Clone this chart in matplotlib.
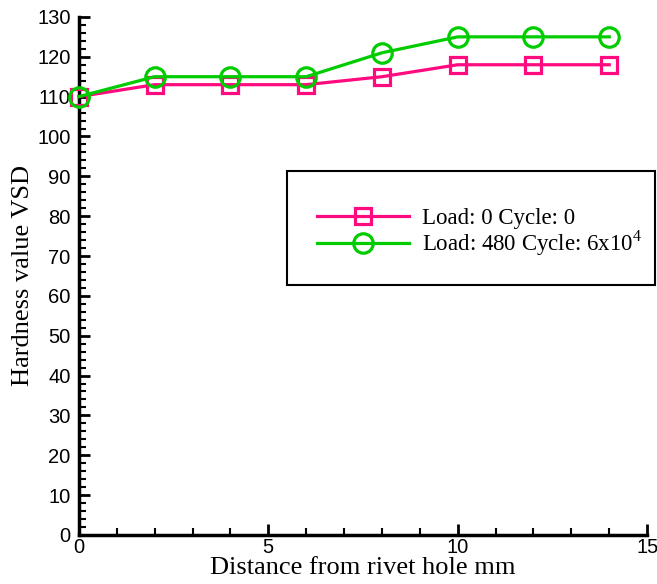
import matplotlib
matplotlib.use("Agg")
import matplotlib.pyplot as plt
from matplotlib.patches import Rectangle
from matplotlib.ticker import MultipleLocator

# data
distance = [0, 2, 4, 6, 8, 10, 12, 14]
hardness_virgin = [110, 113, 113, 113, 115, 118, 118, 118]
hardness_loaded = [110, 115, 115, 115, 121, 125, 125, 125]
labels = ["Load: 0 Cycle: 0", "Load: 480 Cycle: 6x10$^{4}$"]

PINK = "#ff0a7f"
GREEN = "#00cc00"

plt.rcParams["mathtext.fontset"] = "custom"
plt.rcParams["mathtext.rm"] = "Liberation Serif"

fig = plt.figure(figsize=(6.57, 5.84), dpi=100)
ax = fig.add_axes([0.120, 0.084, 0.865, 0.887])

ax.plot(distance, hardness_virgin, color=PINK, lw=2.3, marker="s", ms=11,
        mfc="none", mew=2.3, label=labels[0], clip_on=False, zorder=3)
ax.plot(distance, hardness_loaded, color=GREEN, lw=2.3, marker="o", ms=14,
        mfc="none", mew=2.3, label=labels[1], clip_on=False, zorder=3)

ax.set_xlim(0, 15)
ax.set_ylim(0, 130)
ax.xaxis.set_major_locator(MultipleLocator(5))
ax.xaxis.set_minor_locator(MultipleLocator(1))
ax.yaxis.set_major_locator(MultipleLocator(10))
ax.yaxis.set_minor_locator(MultipleLocator(2))

for side in ("top", "right"):
    ax.spines[side].set_visible(False)
for side in ("left", "bottom"):
    ax.spines[side].set_linewidth(2.5)

ax.tick_params(which="both", direction="in", width=2, labelsize=14.5)
ax.tick_params(which="major", length=8)
ax.tick_params(which="minor", length=5, width=1.5)
ax.tick_params(axis="x", pad=2)
ax.tick_params(axis="y", pad=6)
for lab in ax.get_xticklabels() + ax.get_yticklabels():
    lab.set_fontfamily("Liberation Sans")

ax.set_xlabel("Distance from rivet hole mm", fontfamily="Liberation Serif",
              fontsize=19, labelpad=0)
ax.set_ylabel("Hardness value VSD", fontfamily="Liberation Serif",
              fontsize=19, labelpad=2)

# legend frame drawn as its own box
ax.add_patch(Rectangle((0.366, 0.483), 0.648, 0.220, transform=ax.transAxes,
                       fill=False, ec="black", lw=1.5, clip_on=False, zorder=4))
leg = ax.legend(loc="center left", bbox_to_anchor=(0.419, 0.583), frameon=False,
                handlelength=4.0, handletextpad=0.6, labelspacing=0.0,
                borderpad=0, borderaxespad=0,
                prop={"family": "Liberation Serif", "size": 16.5})

fig.savefig("out.png", dpi=100)
